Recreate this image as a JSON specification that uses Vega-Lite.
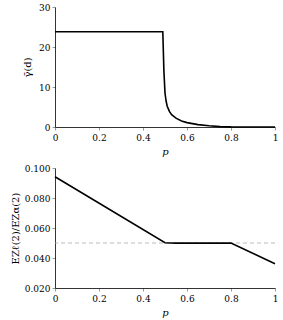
{
  "$schema": "https://vega.github.io/schema/vega-lite/v6.json",
  "padding": {"left": 10, "top": 3, "right": 5, "bottom": 3},
  "bounds": "flush",
  "spacing": 41,
  "config": {
    "view": {"stroke": null},
    "font": "DejaVu Serif",
    "axis": {
      "domainColor": "#000",
      "domainWidth": 0.8,
      "tickColor": "#555",
      "tickSize": 3,
      "tickWidth": 0.6,
      "grid": false,
      "labelFont": "DejaVu Serif",
      "labelFontSize": 9,
      "labelColor": "#000",
      "labelOverlap": false,
      "labelFlush": false,
      "titleFont": "DejaVu Serif",
      "titleFontSize": 10,
      "titleFontWeight": "normal",
      "titleColor": "#000"
    }
  },
  "datasets": {
    "top": [
      {"p": 0, "g": 23.8}, {"p": 0.49, "g": 23.8}, {"p": 0.495, "g": 14},
      {"p": 0.5, "g": 8.5}, {"p": 0.505, "g": 6.5}, {"p": 0.51, "g": 5.2},
      {"p": 0.52, "g": 3.9}, {"p": 0.53, "g": 3.1}, {"p": 0.55, "g": 2.2},
      {"p": 0.575, "g": 1.5}, {"p": 0.6, "g": 1.1}, {"p": 0.65, "g": 0.6},
      {"p": 0.7, "g": 0.3}, {"p": 0.75, "g": 0.1}, {"p": 0.8, "g": 0.02},
      {"p": 0.9, "g": 0}, {"p": 1, "g": 0}
    ],
    "bottom": [
      {"p": 0, "r": 0.0942}, {"p": 0.5, "r": 0.0502}, {"p": 0.55, "r": 0.0499},
      {"p": 0.8, "r": 0.0499}, {"p": 1, "r": 0.0362}
    ],
    "ref": [{"r": 0.05}]
  },
  "vconcat": [
    {
      "width": 220,
      "height": 120,
      "data": {"name": "top"},
      "mark": {"type": "line", "color": "#000", "strokeWidth": 1.6},
      "encoding": {
        "x": {"field": "p", "type": "quantitative", "scale": {"domain": [0, 1], "nice": false},
              "axis": {"values": [0, 0.2, 0.4, 0.6, 0.8, 1], "format": "~g", "title": "p", "titleFontStyle": "italic", "titlePadding": 4, "labelPadding": 3}},
        "y": {"field": "g", "type": "quantitative", "scale": {"domain": [0, 30], "nice": false},
              "axis": {"values": [0, 10, 20, 30], "title": "γ̄(d)", "titlePadding": 6}}
      }
    },
    {
      "width": 220,
      "height": 120,
      "layer": [
        {
          "data": {"name": "ref"},
          "mark": {"type": "rule", "color": "#aaa", "strokeDash": [4, 3], "strokeWidth": 0.8},
          "encoding": {"y": {"field": "r", "type": "quantitative", "scale": {"domain": [0.02, 0.1], "nice": false, "zero": false},
                  "axis": {"values": [0.02, 0.04, 0.06, 0.08, 0.1], "format": ".3f", "labelOverlap": false, "title": "EZℓ(2)/EZα(2)", "titlePadding": 4}}}
        },
        {
          "data": {"name": "bottom"},
          "mark": {"type": "line", "color": "#000", "strokeWidth": 1.6},
          "encoding": {
            "x": {"field": "p", "type": "quantitative", "scale": {"domain": [0, 1], "nice": false},
                  "axis": {"values": [0, 0.2, 0.4, 0.6, 0.8, 1], "format": "~g", "title": "p", "titleFontStyle": "italic", "titlePadding": 4, "labelPadding": 3}},
            "y": {"field": "r", "type": "quantitative", "scale": {"domain": [0.02, 0.1], "nice": false, "zero": false},
                  "axis": {"values": [0.02, 0.04, 0.06, 0.08, 0.1], "format": ".3f", "labelOverlap": false, "title": "EZℓ(2)/EZα(2)", "titlePadding": 4}}
          }
        }
      ]
    }
  ]
}
